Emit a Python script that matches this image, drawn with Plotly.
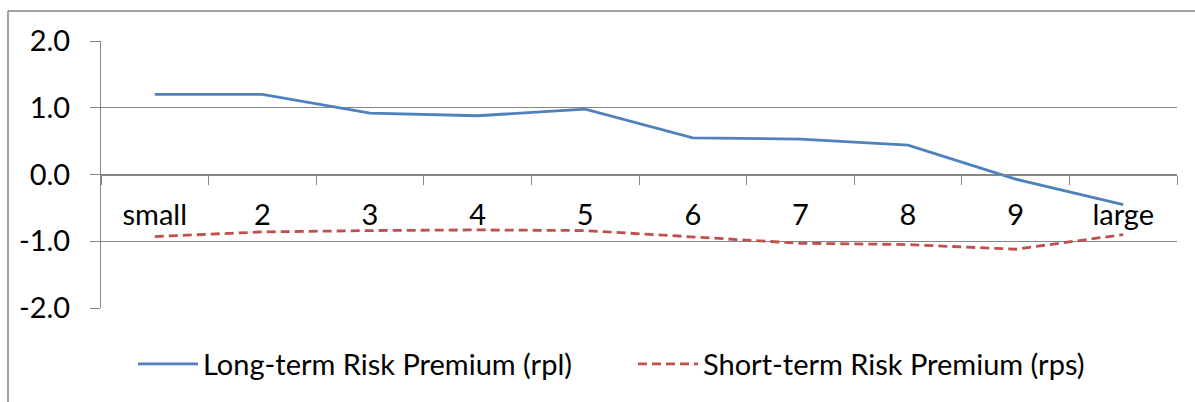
import plotly.graph_objects as go

# Size portfolios from small to large
categories = ["small", "2", "3", "4", "5", "6", "7", "8", "9", "large"]
long_term_rpl = [1.20, 1.20, 0.92, 0.88, 0.98, 0.55, 0.53, 0.44, -0.07, -0.45]
short_term_rps = [-0.93, -0.86, -0.84, -0.83, -0.84, -0.93, -1.03, -1.05, -1.12, -0.90]
y_ticks = [-2, -1, 0, 1, 2]
y_tick_text = ["-2.0", "-1.0", "0.0", "1.0", "2.0"]

W, H = 1195, 402
L, R, T, B = 101, 1177, 41, 308  # plot area in pixels
GRID = "#868686"
FONT = "Lato"
FS = 29

fig = go.Figure()
fig.add_trace(go.Scatter(
    x=list(range(len(categories))), y=long_term_rpl, mode="lines",
    name="Long-term Risk Premium (rpl)",
    line=dict(color="#4F81BD", width=2.8),
))
fig.add_trace(go.Scatter(
    x=list(range(len(categories))), y=short_term_rps, mode="lines",
    name="Short-term Risk Premium (rps)",
    line=dict(color="#C0504D", width=2.8, dash="9px,5px"),
))

ymin, ymax = y_ticks[0], y_ticks[-1]

def px_x(p):
    return (p - L) / (R - L)

def px_y(p):
    return (B - p) / (B - T)

fig.update_layout(
    width=W, height=H,
    margin=dict(l=L, r=W - R, t=T, b=H - B),
    paper_bgcolor="white", plot_bgcolor="white",
    font=dict(family=FONT, size=FS, color="#000000"),
    showlegend=True,
    legend=dict(
        orientation="h", x=px_x(133), xanchor="left",
        y=px_y(364), yanchor="middle",
        font=dict(family=FONT, size=FS),
        itemwidth=60,
        entrywidth=425, entrywidthmode="pixels",
        bgcolor="rgba(0,0,0,0)",
    ),
    xaxis=dict(
        range=[-0.5, len(categories) - 0.5],
        tickvals=list(range(len(categories))), ticktext=categories,
        ticks="", showgrid=False, zeroline=False,
        showline=True, linecolor=GRID, linewidth=1,
        anchor="free", position=(0 - ymin) / (ymax - ymin),
        ticklabelstandoff=15,
        minor=dict(ticks="outside", ticklen=9, tickcolor=GRID,
                   tick0=-0.5, dtick=1, showgrid=False),
        fixedrange=True,
    ),
    yaxis=dict(
        range=[ymin, ymax], tickvals=y_ticks, ticktext=y_tick_text,
        showgrid=True, gridcolor=GRID, gridwidth=1,
        zeroline=False, showline=True, linecolor=GRID, linewidth=1,
        ticks="outside", ticklen=10, tickcolor=GRID,
        ticklabelstandoff=14,
        fixedrange=True,
    ),
)

# Chart frame (left and top edges)
fig.add_shape(type="line", xref="paper", yref="paper",
              x0=px_x(8), x1=px_x(8), y0=px_y(H + 5), y1=px_y(11),
              line=dict(color=GRID, width=1.5))
fig.add_shape(type="line", xref="paper", yref="paper",
              x0=px_x(8), x1=px_x(W + 5), y0=px_y(11), y1=px_y(11),
              line=dict(color=GRID, width=1.5))

fig.write_html("out.html")
